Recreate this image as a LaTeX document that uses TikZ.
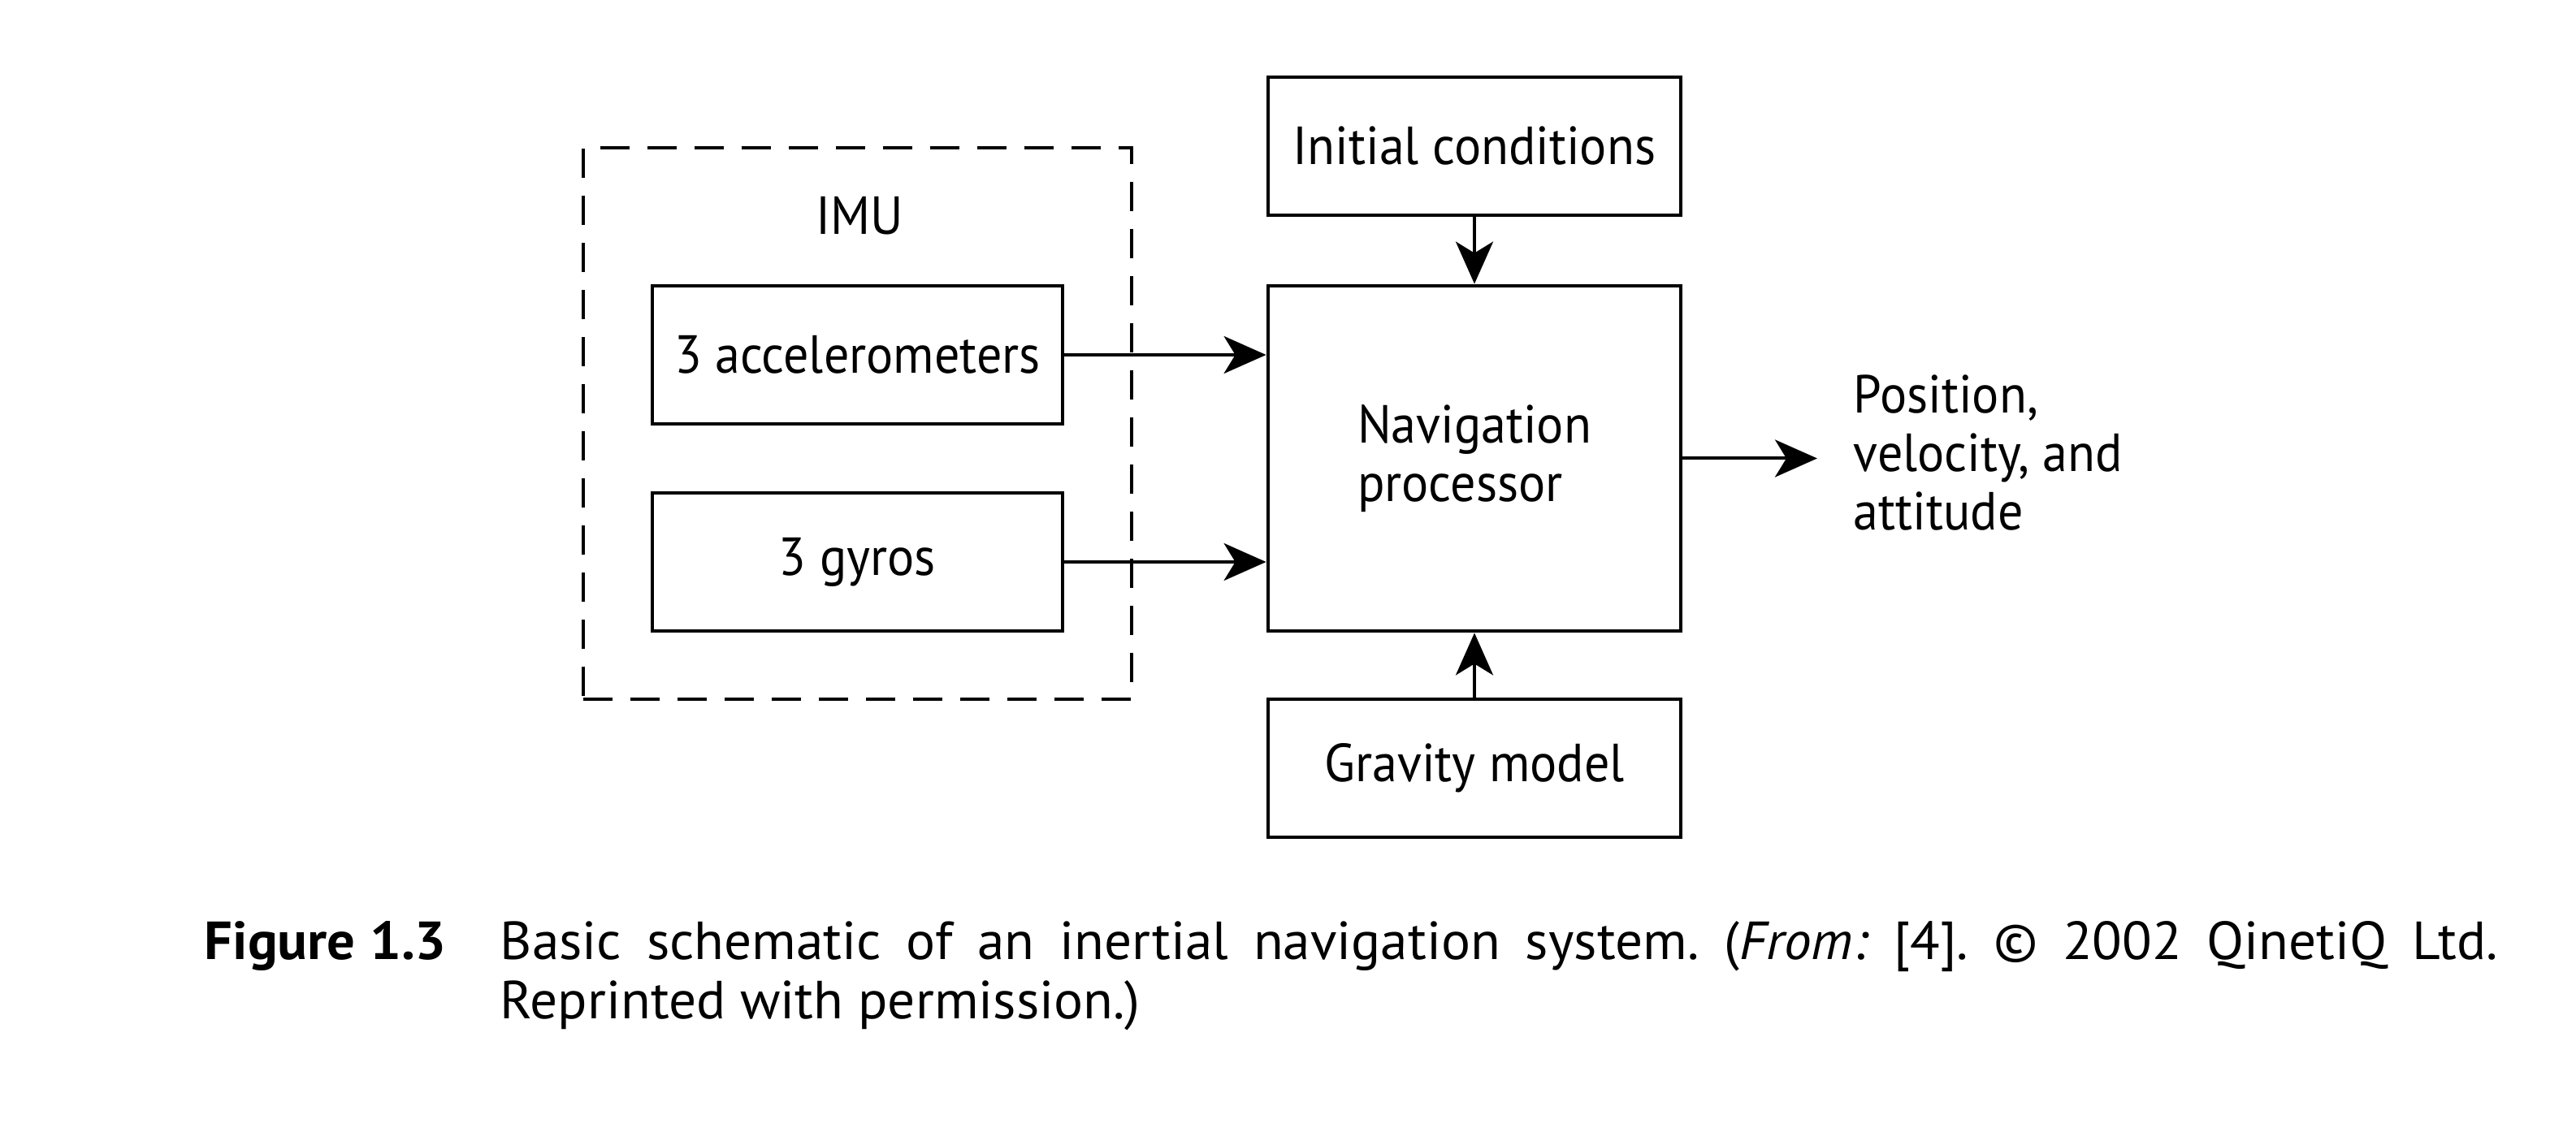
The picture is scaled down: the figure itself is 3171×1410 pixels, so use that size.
\documentclass[tikz,border=0pt]{standalone}
\usepackage{fontspec}
\setmainfont{PT Sans}[FakeStretch=0.94, BoldFeatures={FakeStretch=1.04}]
\newfontfamily\capfont{PT Sans}[FakeStretch=1.02]
\usetikzlibrary{arrows.meta}
\frenchspacing
\begin{document}
\begin{tikzpicture}[x=0.25pt,y=-0.25pt,
  every node/.style={font=\fontsize{16.5}{18}\selectfont, inner sep=0pt},
  blk/.style={draw, line width=1.2pt, minimum width=127pt, minimum height=42.5pt, align=center},
  imubox/.style={draw, dash pattern=on 9pt off 5.5pt, line width=1pt, minimum width=168.75pt, minimum height=169.75pt},
  arr/.style={line width=1pt, -{Stealth[length=13pt,width=11.5pt,inset=3.5pt]}}]
\useasboundingbox (0,0) rectangle (3171,1410);
\node[imubox] (imu) at (1055.5,521.5) {};
\node[anchor=base] (imulbl) at (1058,289) {IMU};
\node[blk, minimum width=126.25pt] (acc) at (1055.5,437) {3 accelerometers};
\node[blk, minimum width=126.25pt] (gyr) at (1055.5,692) {3 gyros};
\node[blk] (init) at (1815,180) {Initial conditions};
\node[blk, minimum height=106.25pt, align=left] (nav) at (1815,564.5) {Navigation\\processor};
\node[blk] (grav) at (1815,946) {Gravity model};
\coordinate (out) at (2237,564.5);
\node[anchor=base west] (pva) at (2281,509) {\begin{tabular}[t]{@{}l@{}}Position,\\velocity, and\\attitude\end{tabular}};
\draw[arr] (acc.east) -- (acc.east -| nav.west);
\draw[arr] (gyr.east) -- (gyr.east -| nav.west);
\draw[arr] (init.south) -- (nav.north);
\draw[arr] (grav.north) -- (nav.south);
\draw[arr] (nav.east) -- (out);
\node[anchor=base west] (fig) at (251,1181) {\bfseries Figure 1.3};
\node[anchor=base west] (cap) at (615,1181) {\parbox[t]{614.75pt}{\capfont\fontsize{16.5}{18.25}\selectfont Basic schematic of an inertial navigation system. (\textit{From:} [4]. \textcopyright{} 2002 QinetiQ Ltd.\linebreak Reprinted with permission.)}};
\end{tikzpicture}
\end{document}
